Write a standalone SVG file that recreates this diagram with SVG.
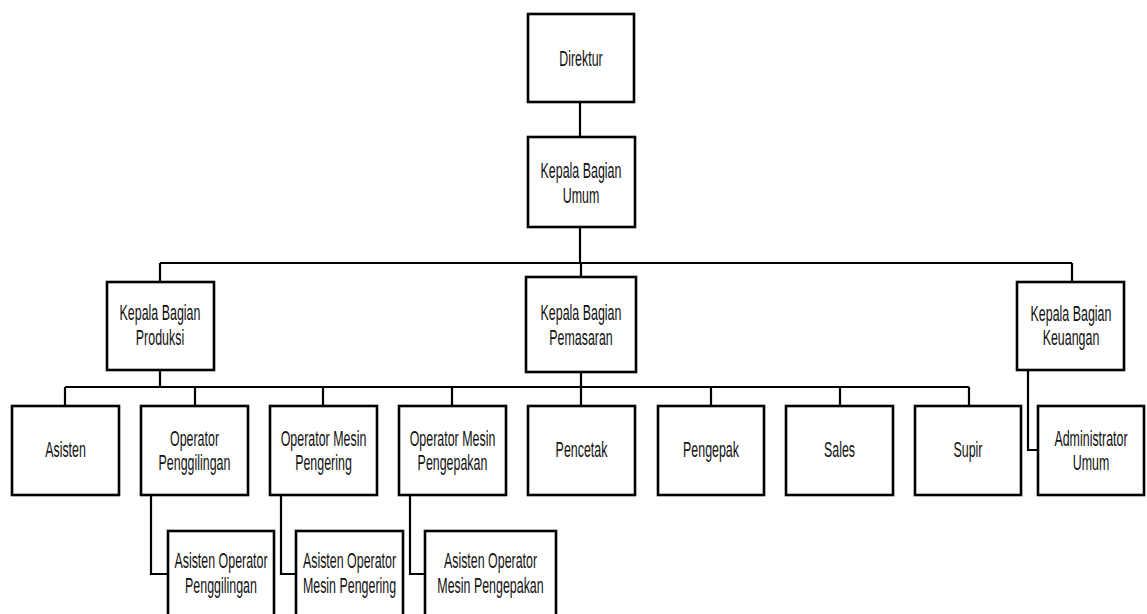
<svg xmlns="http://www.w3.org/2000/svg" width="1147" height="614" viewBox="0 0 1147 614">
<style>
.box{fill:#fff;stroke:#000;stroke-width:2.6}
.ln{fill:none;stroke:#000;stroke-width:2.2}
text{font-family:"Liberation Sans",Arial,sans-serif;font-size:22px;text-anchor:middle;fill:#111}
</style>
<rect width="1147" height="614" fill="#fff"/>
<g id="connectors">
<path class="ln" d="M580 102V137M580 227V263M160 263H1072M160 263V282M581 263V277M1072 263V282"/>
<path class="ln" d="M65 387H969M160 370V387M581 372V406M65 387V406M195 387V406M323 387V406M452 387V406M711 387V406M840 387V406M969 387V406"/>
<path class="ln" d="M1028 370V450H1038M151 495V574H168M281 495V574H296M410 495V574H425"/>
</g>
<g id="direktur"><rect class="box" x="528" y="14" width="106" height="88"/><text transform="translate(581 0) scale(0.565 1)" y="66">Direktur</text></g>
<g id="kb-umum"><rect class="box" x="528" y="137" width="107" height="90"/><text transform="translate(581 0) scale(0.565 1)" y="178">Kepala Bagian</text><text transform="translate(581 0) scale(0.565 1)" y="203">Umum</text></g>
<g id="kb-produksi"><rect class="box" x="107" y="282" width="107" height="88"/><text transform="translate(160 0) scale(0.565 1)" y="320">Kepala Bagian</text><text transform="translate(160 0) scale(0.565 1)" y="345">Produksi</text></g>
<g id="kb-pemasaran"><rect class="box" x="526" y="277" width="110" height="95"/><text transform="translate(581 0) scale(0.565 1)" y="320">Kepala Bagian</text><text transform="translate(581 0) scale(0.565 1)" y="345">Pemasaran</text></g>
<g id="kb-keuangan"><rect class="box" x="1017" y="282" width="107" height="88"/><text transform="translate(1071 0) scale(0.565 1)" y="321">Kepala Bagian</text><text transform="translate(1071 0) scale(0.565 1)" y="345">Keuangan</text></g>
<g id="asisten"><rect class="box" x="12" y="406" width="107" height="89"/><text transform="translate(65.5 0) scale(0.565 1)" y="457">Asisten</text></g>
<g id="op-penggilingan"><rect class="box" x="141" y="406" width="107" height="89"/><text transform="translate(194.5 0) scale(0.565 1)" y="446">Operator</text><text transform="translate(194.5 0) scale(0.565 1)" y="470">Penggilingan</text></g>
<g id="op-pengering"><rect class="box" x="270" y="406" width="107" height="89"/><text transform="translate(323.5 0) scale(0.565 1)" y="446">Operator Mesin</text><text transform="translate(323.5 0) scale(0.565 1)" y="470">Pengering</text></g>
<g id="op-pengepakan"><rect class="box" x="399" y="406" width="107" height="89"/><text transform="translate(452.5 0) scale(0.565 1)" y="446">Operator Mesin</text><text transform="translate(452.5 0) scale(0.565 1)" y="470">Pengepakan</text></g>
<g id="pencetak"><rect class="box" x="528" y="406" width="107" height="89"/><text transform="translate(581.5 0) scale(0.565 1)" y="457">Pencetak</text></g>
<g id="pengepak"><rect class="box" x="658" y="406" width="106" height="89"/><text transform="translate(711 0) scale(0.565 1)" y="457">Pengepak</text></g>
<g id="sales"><rect class="box" x="786" y="406" width="107" height="89"/><text transform="translate(839.5 0) scale(0.565 1)" y="457">Sales</text></g>
<g id="supir"><rect class="box" x="915" y="406" width="106" height="89"/><text transform="translate(968 0) scale(0.565 1)" y="457">Supir</text></g>
<g id="admin-umum"><rect class="box" x="1038" y="406" width="106" height="89"/><text transform="translate(1091 0) scale(0.565 1)" y="446">Administrator</text><text transform="translate(1091 0) scale(0.565 1)" y="470">Umum</text></g>
<g id="as-op-penggilingan"><rect class="box" x="168" y="531" width="106" height="90"/><text transform="translate(221 0) scale(0.565 1)" y="568">Asisten Operator</text><text transform="translate(221 0) scale(0.565 1)" y="593">Penggilingan</text></g>
<g id="as-op-pengering"><rect class="box" x="296" y="531" width="107" height="90"/><text transform="translate(349.5 0) scale(0.565 1)" y="568">Asisten Operator</text><text transform="translate(349.5 0) scale(0.565 1)" y="593">Mesin Pengering</text></g>
<g id="as-op-pengepakan"><rect class="box" x="425" y="531" width="131" height="90"/><text transform="translate(490.5 0) scale(0.565 1)" y="568">Asisten Operator</text><text transform="translate(490.5 0) scale(0.565 1)" y="593">Mesin Pengepakan</text></g>
</svg>
